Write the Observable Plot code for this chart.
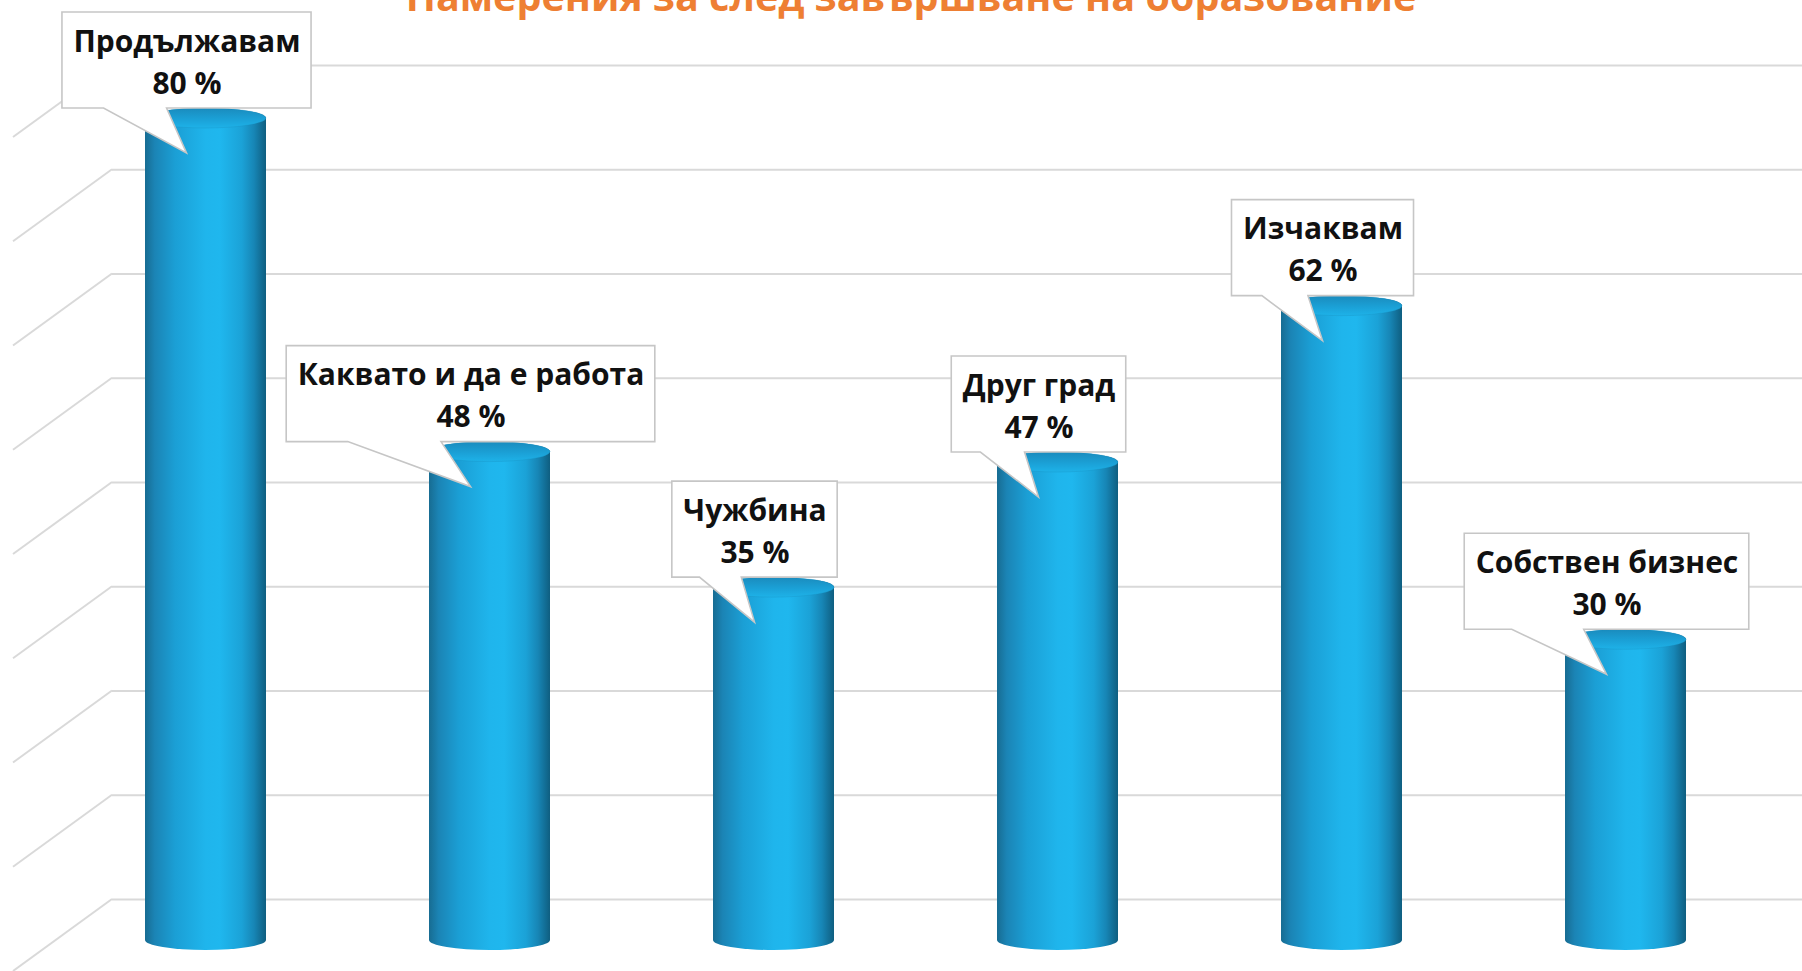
<!DOCTYPE html>
<html><head><meta charset="utf-8">
<script src="https://cdn.jsdelivr.net/npm/d3@7"></script>
<script src="https://cdn.jsdelivr.net/npm/@observablehq/plot@0.6"></script>
<style>
html,body{margin:0;padding:0;background:#fff;overflow:hidden;width:1802px;height:971px;}
#chart{position:absolute;left:0;top:0;}
#title{position:absolute;left:10px;width:1802px;top:-23px;text-align:center;font-family:"Open Sans",sans-serif;font-weight:700;font-size:39.5px;line-height:1;color:#EE7F33;white-space:nowrap;}
</style></head><body>
<div id="chart"></div>
<div id="title"></div>
<script>
const titleText = "Намерения за след завършване на образование";
const categories = ["Продължавам", "Каквато и да е работа", "Чужбина", "Друг град", "Изчаквам", "Собствен бизнес"];
const values = [80, 48, 35, 47, 62, 30];
const gridTicks = [0, 10, 20, 30, 40, 50, 60, 70, 80];

const data = categories.map((c, i) => ({cat: c, value: values[i]}));
const labelFont = "bold 30px 'Open Sans'";
const canvas = document.createElement("canvas");
const cctx = canvas.getContext("2d");
cctx.font = labelFont;
const textW = s => cctx.measureText(s).width;

function bandwidthOf(x) {
  if (typeof x.bandwidth === "function") return x.bandwidth();
  if (typeof x.bandwidth === "number") return x.bandwidth;
  return 120;
}

const defsMark = () => {
  const g = d3.create("svg:g");
  const defs = g.append("defs");
  const lg = defs.append("linearGradient").attr("id", "cyl").attr("x1", 0).attr("x2", 1).attr("y1", 0).attr("y2", 0);
  [[0, "#176c92"], [0.08, "#1b84b5"], [0.25, "#1b9fd5"], [0.5, "#1fb5ec"], [0.62, "#1fb7ee"], [0.8, "#1ba2d7"], [0.9, "#1786b6"], [1, "#0f5e80"]]
    .forEach(([o, c]) => lg.append("stop").attr("offset", o).attr("stop-color", c));
  const tg = defs.append("linearGradient").attr("id", "cyltop").attr("x1", 0).attr("x2", 0).attr("y1", 0).attr("y2", 1);
  [[0, "#1a8bbd"], [0.6, "#1ba2d8"], [1, "#1eb2e8"]]
    .forEach(([o, c]) => tg.append("stop").attr("offset", o).attr("stop-color", c));
  return g.node();
};

const wallMark = (index, scales, vals, dims) => {
  const y = scales.y;
  const g = d3.create("svg:g").attr("stroke", "#d9d9d9").attr("stroke-width", 2).attr("fill", "none");
  const x0 = dims.marginLeft;
  for (const t of gridTicks) {
    const yy = y(t) - 43;
    g.append("line").attr("x1", x0).attr("y1", yy).attr("x2", x0 - 99).attr("y2", yy + 72);
  }
  return g.node();
};

const topMark = (index, scales) => {
  const {x, y} = scales;
  const bw = bandwidthOf(x);
  const g = d3.create("svg:g");
  data.forEach(d => {
    const cx = x(d.cat) + bw / 2;
    g.append("ellipse").attr("cx", cx).attr("cy", y(d.value) + 10).attr("rx", bw / 2).attr("ry", 10)
      .attr("fill", "url(#cyltop)").attr("stroke", "#1782b3").attr("stroke-width", 0.6).attr("stroke-opacity", 0.4);
  });
  return g.node();
};

const calloutMark = (index, scales) => {
  const {x, y} = scales;
  const bw = bandwidthOf(x);
  const g = d3.create("svg:g");
  data.forEach(d => {
    const cx = x(d.cat) + bw / 2 - 19;
    const B = y(d.value);
    const w = Math.max(textW(d.cat), textW(`${d.value} %`)) + 22;
    const L = cx - w / 2, R = cx + w / 2, T = B - 96;
    const p = `M${L},${T}H${R}V${B}H${L + 0.42 * w}L${cx},${B + 45}L${L + 0.167 * w},${B}H${L}Z`;
    g.append("path").attr("d", p).attr("fill", "#fff").attr("stroke", "#c6c6c6").attr("stroke-width", 1.6);
  });
  return g.node();
};

const chart = Plot.plot({
  width: 1802,
  height: 971,
  marginLeft: 112,
  marginRight: 0,
  marginTop: 0,
  marginBottom: 0,
  style: {background: "#fff", fontFamily: "Open Sans"},
  x: {type: "band", domain: categories, range: [62, 1769], paddingInner: 0.575, paddingOuter: 0.2875, axis: null},
  y: {domain: [0, 80], range: [942, 108], axis: null},
  marks: [
    defsMark,
    Plot.ruleY(gridTicks, {y: d => d, dy: -43, stroke: "#d9d9d9", strokeWidth: 2.2}),
    wallMark,
    Plot.barY(data, {x: "cat", y: "value", fill: "url(#cyl)", rx: 100, ry: 10, insetBottom: -8}),
    topMark,
    calloutMark,
    Plot.text(data, {
      x: "cat", y: "value", text: d => `${d.cat}\n${d.value} %`,
      dx: -19, dy: -15, lineAnchor: "bottom", lineHeight: 1.4,
      fontSize: 30, fontWeight: "bold", fontFamily: "Open Sans", fill: "#111"
    })
  ]
});
document.getElementById("chart").appendChild(chart);
document.getElementById("title").textContent = titleText;
</script>
</body></html>
